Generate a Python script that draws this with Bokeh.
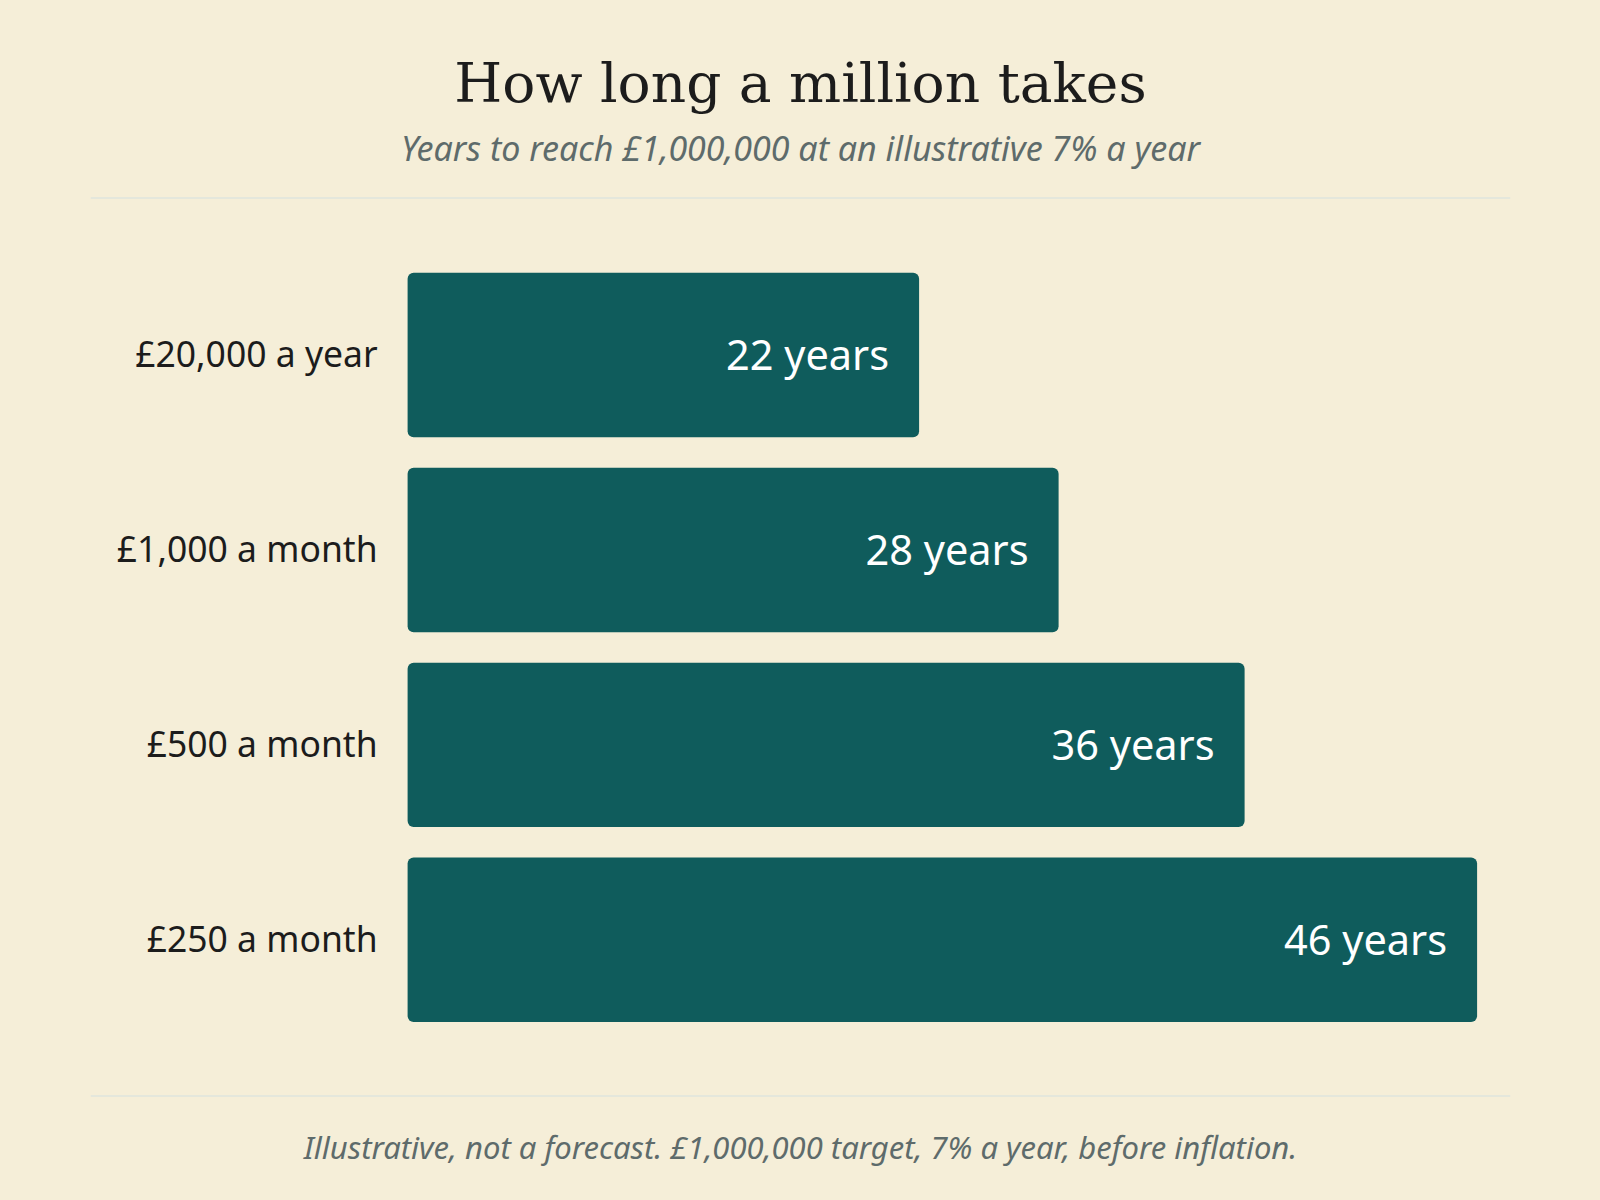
from bokeh.plotting import figure
from bokeh.models import ColumnDataSource, Range1d, Span, Title, GlobalInlineStyleSheet
from bokeh.core.properties import value
from bokeh.embed import file_html
from bokeh.resources import INLINE

# ---- data ----
categories = ["£20,000 a year", "£1,000 a month", "£500 a month", "£250 a month"]
years = [22, 28, 36, 46]
value_labels = [f"{v} years" for v in years]

title_text = "How long a million takes"
subtitle_text = "Years to reach £1,000,000 at an illustrative 7% a year"
footer_text = "Illustrative, not a forecast. £1,000,000 target, 7% a year, before inflation."

# ---- style ----
BG = "#f5eed8"
BAR = "#0f5c5c"
RULE = "#d3dfe0"
INK = "#1c1c1c"
GREY = "#5e6b6b"

W, H = 1600, 1200
PX_PER_YEAR = 23.25
ML, MR, MT, MB = 90, 90, 197, 104
frame_w = W - ML - MR
x_left = -(407.1 - ML) / PX_PER_YEAR
x_right = x_left + frame_w / PX_PER_YEAR

source = ColumnDataSource(dict(
    y=list(range(len(categories))),
    category=categories,
    years=years,
    label=value_labels,
))

p = figure(width=W, height=H, output_backend="svg", toolbar_location=None,
           x_range=Range1d(x_left, x_right),
           y_range=Range1d(len(categories) - 1 + 0.804, -0.808),
           min_border_left=ML, min_border_right=MR,
           min_border_top=MT, min_border_bottom=MB,
           background_fill_color=BG, border_fill_color=BG)
p.stylesheets = [GlobalInlineStyleSheet(css="html, body { background: %s; }" % BG)]
p.outline_line_color = None
p.xaxis.visible = False
p.yaxis.visible = False
p.grid.visible = False

p.hbar(y="y", left=0, right="years", height=0.8435, source=source,
       fill_color=BAR, line_color=None, border_radius=6)

p.text(x=0, y="y", text="category", source=source, x_offset=-30, y_offset=-2,
       text_align="right", text_baseline="middle",
       text_font=value("Noto Sans"), text_font_size="35.5px", text_color=INK)

p.text(x="years", y="y", text="label", source=source, x_offset=-30, y_offset=-1,
       text_align="right", text_baseline="middle",
       text_font=value("Noto Sans"), text_font_size="41.5px", text_color="#ffffff")

for loc in (p.y_range.start, p.y_range.end):
    p.add_layout(Span(location=loc, dimension="width", line_color=RULE, line_width=2))

p.add_layout(Title(text=subtitle_text, align="center", text_font="Noto Sans",
                   text_font_style="italic", text_font_size="34px",
                   text_color=GREY, standoff=54), "above")
p.add_layout(Title(text=title_text, align="center", text_font="DejaVu Serif",
                   text_font_style="normal", text_font_size="55px",
                   text_color=INK, standoff=-38), "above")
p.add_layout(Title(text=footer_text, align="center", text_font="Noto Sans",
                   text_font_style="italic", text_font_size="31px",
                   text_color=GREY, standoff=55), "below")

open("out.html", "w").write(file_html(p, INLINE))
